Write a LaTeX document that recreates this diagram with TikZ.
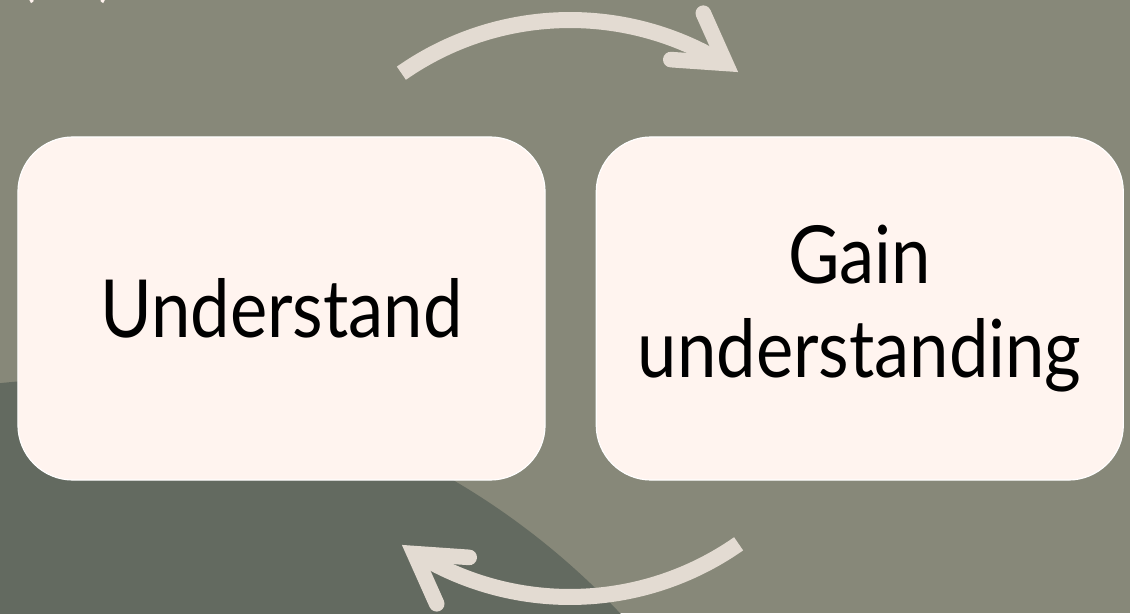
\documentclass[tikz,border=0pt]{standalone}
\usepackage{fontspec}
\setmainfont{Lato}[FakeStretch=0.88]
\usetikzlibrary{positioning}
\definecolor{sage}{HTML}{878879}
\definecolor{moss}{HTML}{636A60}
\definecolor{shell}{HTML}{FFF4EF}
\definecolor{sand}{HTML}{E3DBD2}

\begin{document}
\begin{tikzpicture}[
  x=0.025cm, y=0.025cm,
  node distance=1.25cm,
  card/.style={rectangle, draw=white, line width=0.8pt, fill=shell, rounded corners=1.375cm, minimum width=13.175cm, minimum height=8.575cm, align=center, inner sep=0pt, font=\fontsize{57}{67}\selectfont},
  loop/.style={sand, line width=0.4cm},
  barb/.style={sand, line width=0.39cm, line cap=round, line join=miter}
]

  % page and backdrop
  \useasboundingbox (0,0) rectangle (1130,613);
  \clip (0,0) rectangle (1130,613);
  \fill[sage] (0,0) rectangle (1130,613);
  \fill[moss] (79,-508) circle[radius=742];

  % heading cut off by the top edge
  \node[anchor=south, inner sep=0pt, font=\fontsize{40}{48}\selectfont, text=shell] (heading) at (68,609) {(\hspace{1.6cm})};

  % the two cards
  \node[card] (understand) at (281.5,304.5) {Understand};
  \node[card, right=of understand] (gain) {Gain\\understanding};

  % cycle arrows, the lower one turned half round
  \foreach \turn in {0,180} {
    \begin{scope}[rotate around={\turn:(570,304.5)}]
      \coordinate (tail) at (401.4,539.8);
      \coordinate (notch) at (725.7,549.6);
      \coordinate (barbA) at (703.3,599.8);
      \coordinate (barbB) at (670.8,553.4);
      \draw[loop] (tail) arc[start angle=125, end angle=59, radius=294];
      \draw[barb] (barbA) -- (notch) -- (barbB);
    \end{scope}
  }

\end{tikzpicture}
\end{document}
